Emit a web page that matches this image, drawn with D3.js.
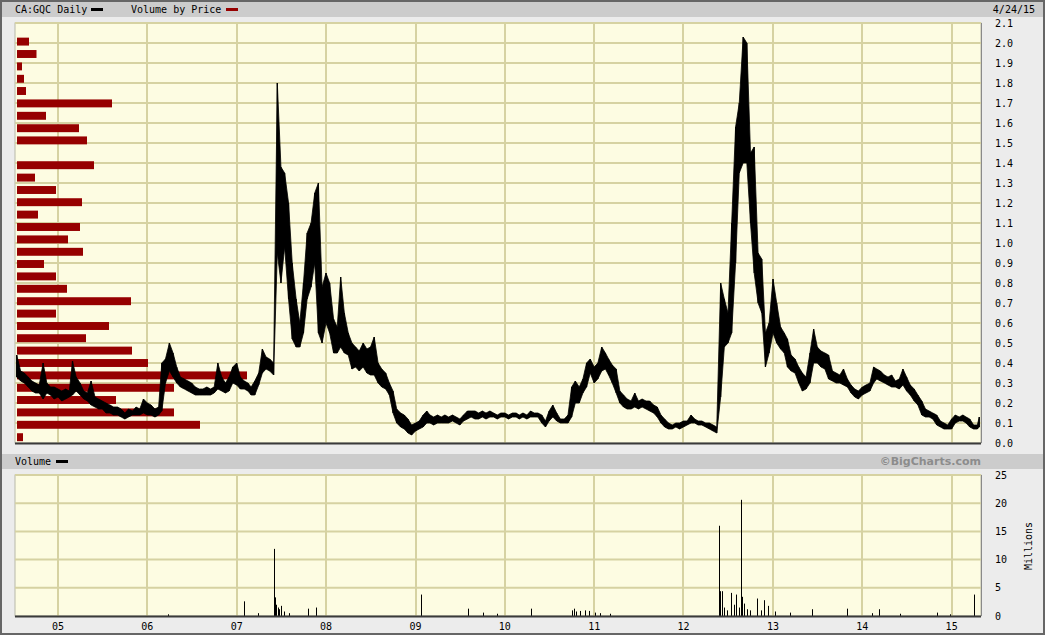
<!DOCTYPE html>
<html>
<head>
<meta charset="utf-8">
<script src="https://cdn.jsdelivr.net/npm/d3@7"></script>
<style>
  body { margin: 0; background: #ececec; }
  text { font-family: "DejaVu Sans Mono", monospace; font-size: 10px; fill: #000; }
</style>
</head>
<body>
<svg id="chart" width="1045" height="635"></svg>
<script>
// semi-monthly high / low, Jul 16 2004 .. Apr 16 2015, then the last day 4/24/15
const priceHigh = [
  0.44,0.36,0.35,0.33,0.31,0.30,0.29,0.40,0.30,0.28,0.28,
  0.27,0.26,0.27,0.26,0.41,0.33,0.30,0.26,0.25,0.31,0.23,0.22,0.21,0.20,0.19,0.18,0.18,0.17,0.15,0.17,0.16,0.18,0.17,0.22,
  0.20,0.19,0.17,0.18,0.40,0.42,0.50,0.45,0.38,0.33,0.32,0.31,0.30,0.28,0.27,0.27,0.28,0.27,0.28,0.40,0.33,0.30,0.33,0.38,
  0.40,0.33,0.31,0.30,0.28,0.31,0.35,0.47,0.43,0.42,0.40,1.80,1.38,1.35,1.20,0.90,0.72,0.60,0.80,1.05,1.10,1.25,1.30,0.78,
  0.85,0.80,0.62,0.58,0.83,0.65,0.55,0.50,0.48,0.46,0.50,0.47,0.48,0.53,0.40,0.37,0.35,0.30,0.26,0.17,0.15,0.14,0.12,0.09,
  0.10,0.11,0.14,0.16,0.14,0.13,0.14,0.13,0.14,0.13,0.14,0.13,0.12,0.14,0.16,0.16,0.16,0.15,0.16,0.15,0.16,0.15,0.14,0.15,
  0.15,0.14,0.15,0.15,0.14,0.15,0.14,0.16,0.15,0.15,0.14,0.11,0.16,0.19,0.15,0.12,0.12,0.14,0.28,0.31,0.28,0.32,0.40,0.42,
  0.38,0.40,0.48,0.45,0.42,0.39,0.37,0.26,0.24,0.22,0.21,0.25,0.21,0.22,0.21,0.21,0.19,0.18,0.14,0.12,0.10,0.09,0.10,0.10,
  0.11,0.11,0.14,0.12,0.11,0.11,0.10,0.10,0.09,0.08,0.80,0.72,0.65,1.10,1.58,1.70,2.03,2.00,1.45,1.48,0.95,0.92,0.55,0.60,
  0.82,0.70,0.58,0.55,0.52,0.44,0.42,0.38,0.35,0.33,0.45,0.57,0.48,0.46,0.45,0.44,0.36,0.35,0.34,0.37,0.32,0.29,0.27,0.26,
  0.28,0.29,0.30,0.38,0.37,0.36,0.34,0.33,0.34,0.31,0.32,0.37,0.33,0.29,0.27,0.24,0.21,0.17,0.16,0.15,0.14,0.11,0.10,0.09,
  0.12,0.14,0.13,0.14,0.13,0.12,0.09,0.09,0.13
];
const priceLow = [
  0.33,0.31,0.30,0.28,0.26,0.25,0.25,0.22,0.25,0.24,0.22,
  0.23,0.21,0.22,0.23,0.24,0.26,0.24,0.22,0.21,0.19,0.18,0.17,0.17,0.15,0.15,0.14,0.14,0.13,0.12,0.13,0.14,0.14,0.14,0.15,
  0.14,0.14,0.13,0.14,0.16,0.30,0.36,0.33,0.30,0.28,0.27,0.26,0.25,0.24,0.24,0.24,0.24,0.24,0.25,0.27,0.26,0.25,0.26,0.30,
  0.29,0.27,0.27,0.26,0.24,0.24,0.29,0.35,0.37,0.36,0.34,0.95,0.80,0.98,0.72,0.52,0.48,0.48,0.55,0.72,0.78,0.90,0.55,0.50,
  0.60,0.55,0.45,0.45,0.48,0.45,0.44,0.37,0.38,0.36,0.38,0.35,0.34,0.34,0.30,0.28,0.27,0.24,0.15,0.10,0.08,0.07,0.05,0.04,
  0.06,0.07,0.08,0.10,0.10,0.09,0.10,0.10,0.10,0.10,0.11,0.10,0.09,0.11,0.12,0.13,0.12,0.12,0.13,0.12,0.13,0.13,0.12,0.13,
  0.13,0.12,0.13,0.13,0.12,0.13,0.12,0.13,0.13,0.13,0.10,0.08,0.11,0.13,0.11,0.10,0.10,0.10,0.13,0.20,0.20,0.25,0.28,0.35,
  0.30,0.32,0.36,0.37,0.34,0.30,0.25,0.20,0.18,0.17,0.17,0.18,0.17,0.18,0.17,0.16,0.15,0.13,0.10,0.08,0.07,0.07,0.08,0.07,
  0.08,0.09,0.10,0.10,0.09,0.09,0.08,0.07,0.06,0.05,0.23,0.48,0.50,0.55,0.90,1.35,1.40,1.40,1.10,0.85,0.70,0.65,0.38,0.45,
  0.55,0.50,0.47,0.45,0.38,0.36,0.35,0.30,0.26,0.27,0.30,0.40,0.40,0.38,0.37,0.32,0.31,0.30,0.30,0.29,0.28,0.25,0.23,0.22,
  0.24,0.25,0.26,0.30,0.32,0.31,0.30,0.29,0.28,0.28,0.27,0.29,0.26,0.24,0.21,0.19,0.14,0.13,0.13,0.12,0.09,0.08,0.07,0.07,
  0.07,0.10,0.11,0.11,0.10,0.08,0.07,0.07,0.08
];

// daily volume, millions (only the visible bars)
const volDates = ["2006-03-27","2007-01-31","2007-03-28","2007-06-03","2007-06-07","2007-06-11","2007-06-19","2007-06-23",
  "2007-07-01","2007-07-13","2007-08-03","2007-10-19","2007-11-21","2009-01-24","2009-08-04","2009-10-04","2009-11-30",
  "2010-04-18","2010-10-03","2010-10-11","2010-10-19","2010-11-04","2010-11-25","2010-12-11","2011-01-05","2011-01-25",
  "2011-03-07","2012-05-25","2012-05-29","2012-06-06","2012-06-14","2012-06-26","2012-07-15","2012-07-25","2012-08-02",
  "2012-08-14","2012-08-23","2012-08-27","2012-09-04","2012-09-16","2012-09-29","2012-10-29","2012-11-12","2012-11-25",
  "2012-12-11","2013-01-10","2013-03-12","2013-06-08","2013-10-30","2014-02-10","2014-03-11","2014-06-04","2014-11-01",
  "2014-12-27","2015-04-03"];
const volMillions = [0.3,2.6,0.5,11.9,3.3,2.0,1.5,1.2,1.8,0.8,0.5,1.3,1.5,3.8,1.3,0.6,0.4,1.3,1.0,1.3,0.8,0.9,1.0,0.9,0.6,
  0.5,0.4,16.0,4.4,4.4,1.5,1.0,4.1,2.0,3.8,1.5,20.6,3.4,2.2,1.2,1.0,3.1,1.0,2.8,1.8,0.8,0.6,1.2,1.3,0.5,1.2,0.4,0.6,0.3,3.8];

// volume by price: bucket centre and volume (millions)
const vbpPrice = [2.007,1.945,1.883,1.821,1.760,1.698,1.636,1.574,1.513,1.451,1.389,1.327,1.265,1.204,1.142,1.080,1.018,
  0.956,0.895,0.833,0.771,0.709,0.647,0.585,0.524,0.462,0.400,0.338,0.276,0.215,0.153,0.091,0.029];
const vbpVolume = [2.4,3.9,1.0,1.4,1.8,19.0,5.8,12.4,14.0,0,15.4,3.6,7.8,13.0,4.2,12.6,10.2,13.2,5.4,7.8,10.0,22.8,7.8,
  18.4,13.8,23.0,26.2,46.0,31.4,19.8,31.4,36.6,1.2];

const priceTicks = [0,0.1,0.2,0.3,0.4,0.5,0.6,0.7,0.8,0.9,1.0,1.1,1.2,1.3,1.4,1.5,1.6,1.7,1.8,1.9,2.0,2.1];
const volTicks = [0,5,10,15,20,25];
const yearTicks = ["2005","2006","2007","2008","2009","2010","2011","2012","2013","2014","2015"];

const parseDate = d3.timeParse("%Y-%m-%d");
let priceDates = [];
d3.timeMonth.range(new Date(2004, 6, 1), new Date(2015, 4, 1)).forEach(function(m) {
  priceDates.push(m, d3.timeDay.offset(m, 15));
});
priceDates = priceDates.filter(function(d) { return d >= new Date(2004, 6, 16) && d <= new Date(2015, 3, 16); });
priceDates.push(new Date(2015, 3, 24));
let prices = priceDates.map(function(d, i) { return {date: d, hi: priceHigh[i], lo: priceLow[i]}; });

const left = 15, right = 981;
const gridColor = "#d6d2a2", plotFill = "#fdfce2";

let svg = d3.select("#chart");

let x = d3.scaleTime()
    .domain([new Date(2004, 6, 9), new Date(2015, 4, 1)])
    .range([left, right]);
let y = d3.scaleLinear().domain([0, 2.1]).range([443, 23]);
let vy = d3.scaleLinear().domain([0, 25]).range([616, 475]);
let vbpX = d3.scaleLinear().domain([0, 46]).range([0, 230]);

// frame and header bands
svg.append("rect").attr("x", 1).attr("y", 1).attr("width", 1043).attr("height", 633)
    .attr("fill", "#ececec").attr("stroke", "#666").attr("stroke-width", 2);
svg.append("rect").attr("x", 2).attr("y", 2).attr("width", 1041).attr("height", 15).attr("fill", "#cccccc");
svg.append("rect").attr("x", 2).attr("y", 454).attr("width", 1041).attr("height", 15).attr("fill", "#cccccc");

// plot backgrounds
[[23, 443], [475, 616]].forEach(function(p) {
  svg.append("rect").attr("x", left).attr("y", p[0]).attr("width", right - left).attr("height", p[1] - p[0])
      .attr("fill", plotFill).attr("stroke", "#b8b8a8").attr("stroke-width", 1);
});

// grid
let grid = svg.append("g").attr("stroke", gridColor).attr("stroke-width", 2);
priceTicks.filter(function(t) { return t > 0; }).forEach(function(t) {
  grid.append("line").attr("x1", left).attr("x2", right).attr("y1", y(t)).attr("y2", y(t));
});
volTicks.filter(function(t) { return t > 0; }).forEach(function(t) {
  grid.append("line").attr("x1", left).attr("x2", right).attr("y1", vy(t)).attr("y2", vy(t));
});
yearTicks.forEach(function(yr) {
  let xx = Math.round(x(parseDate(yr + "-01-01")));
  grid.append("line").attr("x1", xx).attr("x2", xx).attr("y1", 23).attr("y2", 443);
  grid.append("line").attr("x1", xx).attr("x2", xx).attr("y1", 475).attr("y2", 616);
});

// volume by price
let bucket = y(0) - y(vbpPrice[0] - vbpPrice[1]);
svg.append("g").selectAll("rect")
    .data(vbpPrice.map(function(p, i) { return {p: p, v: vbpVolume[i]}; }).filter(function(d) { return d.v > 0; }))
    .enter().append("rect")
    .attr("x", left + 2)
    .attr("y", function(d) { return y(d.p) - bucket * 0.32; })
    .attr("width", function(d) { return vbpX(d.v); })
    .attr("height", bucket * 0.64)
    .attr("fill", "#960000");

// price bars
let area = d3.area()
    .x(function(d) { return x(d.date); })
    .y0(function(d) { return y(d.lo); })
    .y1(function(d) { return y(d.hi); });
svg.append("path").datum(prices).attr("d", area)
    .attr("fill", "#000").attr("stroke", "#000").attr("stroke-width", 0.8);
svg.append("g").selectAll("line").data(prices).enter().append("line")
    .attr("x1", function(d) { return x(d.date); }).attr("x2", function(d) { return x(d.date); })
    .attr("y1", function(d) { return y(d.lo); }).attr("y2", function(d) { return y(d.hi); })
    .attr("stroke", "#000").attr("stroke-width", 1.2);

// volume bars
svg.append("g").selectAll("line")
    .data(volDates.map(function(d, i) { return {date: parseDate(d), v: volMillions[i]}; }))
    .enter().append("line")
    .attr("x1", function(d) { return Math.round(x(d.date)) + 0.5; })
    .attr("x2", function(d) { return Math.round(x(d.date)) + 0.5; })
    .attr("y1", vy(0)).attr("y2", function(d) { return vy(d.v); })
    .attr("stroke", "#000").attr("stroke-width", 1);

// axis base lines
[443.5, 616.5].forEach(function(yy) {
  svg.append("line").attr("x1", left).attr("x2", right).attr("y1", yy).attr("y2", yy)
      .attr("stroke", "#3a3a3a").attr("stroke-width", 2);
});
svg.append("line").attr("x1", right + 0.5).attr("x2", right + 0.5).attr("y1", 23).attr("y2", 443).attr("stroke", "#8a8a8a");
svg.append("line").attr("x1", right + 0.5).attr("x2", right + 0.5).attr("y1", 475).attr("y2", 616).attr("stroke", "#8a8a8a");

// right axis labels
svg.append("g").selectAll("text").data(priceTicks).enter().append("text")
    .attr("x", 995).attr("y", function(d) { return y(d); }).attr("dy", "0.35em")
    .text(d3.format(".1f"));
svg.append("g").selectAll("text").data(volTicks).enter().append("text")
    .attr("x", 995).attr("y", function(d) { return vy(d); }).attr("dy", "0.35em")
    .text(function(d) { return d; });
svg.append("text").attr("transform", "translate(1032,546) rotate(-90)")
    .attr("text-anchor", "middle").text("Millions");

// year labels
svg.append("g").selectAll("text").data(yearTicks).enter().append("text")
    .attr("x", function(d) { return x(parseDate(d + "-01-01")); }).attr("y", 626).attr("dy", "0.35em")
    .attr("text-anchor", "middle")
    .text(function(d) { return d.slice(2); });

// header legends
svg.append("text").attr("x", 15).attr("y", 13).text("CA:GQC Daily");
svg.append("rect").attr("x", 91).attr("y", 8).attr("width", 12).attr("height", 3).attr("fill", "#000");
svg.append("text").attr("x", 131).attr("y", 13).text("Volume by Price");
svg.append("rect").attr("x", 226).attr("y", 8).attr("width", 12).attr("height", 3).attr("fill", "#960000");
svg.append("text").attr("x", 1035).attr("y", 13).attr("text-anchor", "end").text("4/24/15");
svg.append("text").attr("x", 15).attr("y", 465).text("Volume");
svg.append("rect").attr("x", 56).attr("y", 460).attr("width", 12).attr("height", 3).attr("fill", "#000");
svg.append("text").attr("x", 981).attr("y", 465).attr("text-anchor", "end")
    .style("font-family", "'DejaVu Sans', sans-serif").style("font-weight", "bold").style("font-size", "11px")
    .style("fill", "#8c8c8c").text("\u00a9BigCharts.com");
</script>
</body>
</html>
